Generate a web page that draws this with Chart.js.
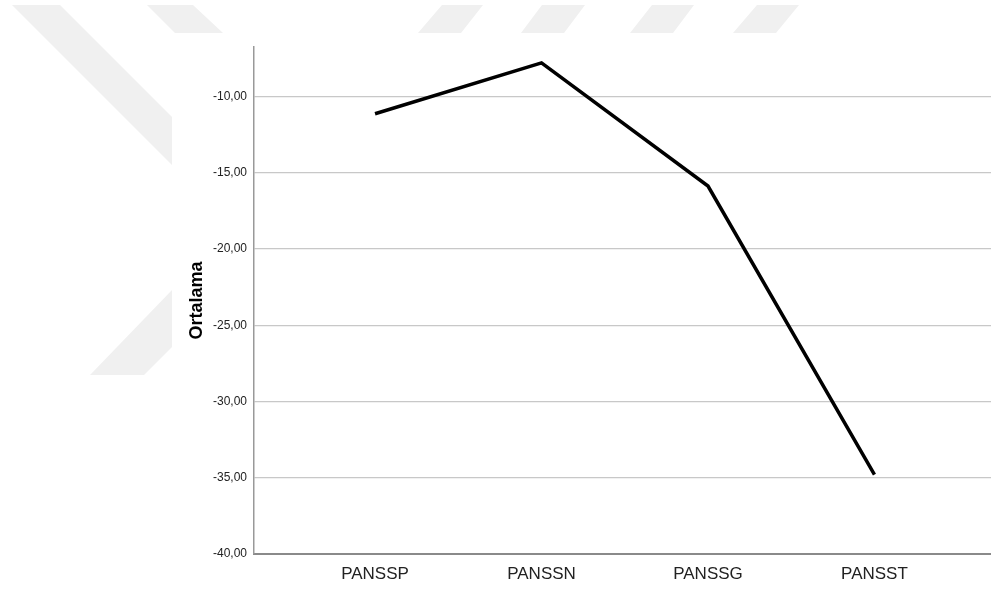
<!DOCTYPE html>
<html>
<head>
<meta charset="utf-8">
<script src="https://cdn.jsdelivr.net/npm/chart.js@4/dist/chart.umd.min.js"></script>
<style>
  html, body { margin: 0; padding: 0; background: #fff; }
  #wrap { width: 991px; height: 589px; position: relative; }
</style>
</head>
<body>
<div id="wrap"><canvas id="grafico"></canvas></div>
<script>
// dados do grafico
const categorias = ["PANSSP", "PANSSN", "PANSSG", "PANSST"];
const medias = [-11.13, -7.79, -15.87, -34.80];
const ticksY = [-40, -35, -30, -25, -20, -15, -10];
const eixoYMin = -40;
const eixoYMax = -6.75;

// marca d'agua cinza do fundo (decoracao)
const marcaDagua = {
  id: "marcaDagua",
  beforeDraw(chart) {
    const ctx = chart.ctx;
    const formas = [
      [[12, 5], [60, 5], [172, 117], [172, 165]],
      [[147, 5], [193, 5], [223, 33], [175, 33], [172, 30]],
      [[90, 375], [172, 290], [172, 347], [144, 375]],
      [[442, 5], [483, 5], [461, 33], [418, 33]],
      [[542, 5], [585, 5], [564, 33], [521, 33]],
      [[652, 5], [694, 5], [673, 33], [630, 33]],
      [[757, 5], [799, 5], [776, 33], [733, 33]]
    ];
    ctx.save();
    ctx.fillStyle = "#f0f0f0";
    formas.forEach(f => {
      ctx.beginPath();
      ctx.moveTo(f[0][0], f[0][1]);
      for (let i = 1; i < f.length; i++) ctx.lineTo(f[i][0], f[i][1]);
      ctx.closePath();
      ctx.fill();
    });
    ctx.restore();
  }
};

const fonte = "'Liberation Sans', Arial, sans-serif";

const config = {
  type: "line",
  data: {
    datasets: [{
      data: categorias.map((c, i) => ({ x: i + 1, y: medias[i] })),
      borderColor: "#000000",
      borderWidth: 3.5,
      borderCapStyle: "butt",
      pointRadius: 0,
      tension: 0,
      fill: false
    }]
  },
  options: {
    responsive: true,
    maintainAspectRatio: false,
    animation: false,
    layout: { padding: { left: 0, right: 0, top: 47, bottom: 0 } },
    plugins: {
      legend: { display: false },
      tooltip: { enabled: false }
    },
    scales: {
      x: {
        type: "linear",
        min: 0.273,
        max: 4.70,
        afterBuildTicks: (scale) => {
          scale.ticks = categorias.map((c, i) => ({ value: i + 1 }));
        },
        afterFit: (scale) => { scale.height = 35; },
        ticks: {
          callback: (v) => categorias[v - 1] || "",
          color: "#222",
          padding: 10,
          maxRotation: 0,
          autoSkip: false,
          font: { family: fonte, size: 17 }
        },
        grid: { display: false, drawTicks: false },
        border: { display: true, color: "#8a8a8a", width: 2 }
      },
      y: {
        min: eixoYMin,
        max: eixoYMax,
        afterBuildTicks: (scale) => {
          scale.ticks = ticksY.map(v => ({ value: v }));
        },
        afterFit: (scale) => { scale.width = 254; },
        ticks: {
          callback: (v) => v.toFixed(2).replace(".", ","),
          color: "#222",
          padding: 7,
          font: { family: fonte, size: 12 }
        },
        grid: { color: "#c8c8c8", lineWidth: 1.2, drawTicks: false },
        border: { display: true, color: "#999999", width: 1.5 },
        title: {
          display: true,
          text: "Ortalama",
          color: "#000",
          padding: { top: 186, bottom: 0 },
          font: { family: fonte, size: 18, weight: "bold" }
        }
      }
    }
  },
  plugins: [marcaDagua]
};

let grafico = new Chart(document.getElementById("grafico"), config);
</script>
</body>
</html>
